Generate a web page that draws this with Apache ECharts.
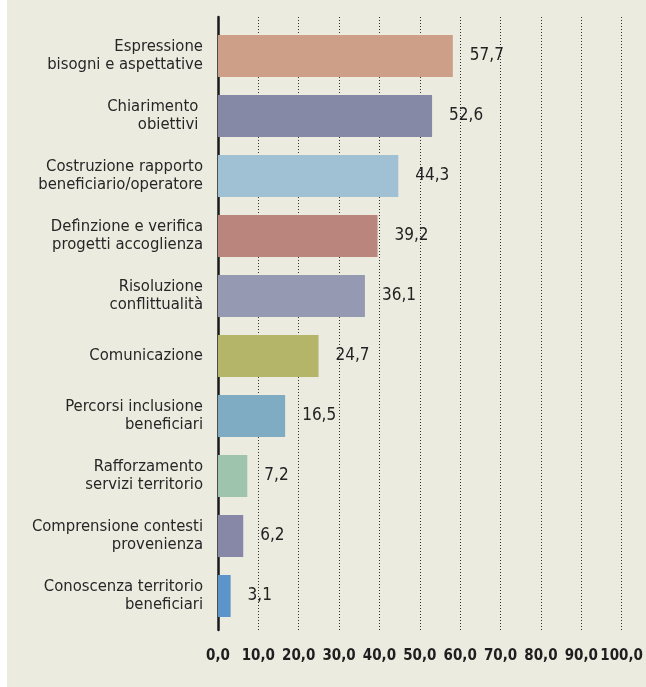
<!DOCTYPE html>
<html>
<head>
<meta charset="utf-8">
<script src="https://cdn.jsdelivr.net/npm/echarts@6/dist/echarts.min.js"></script>
<style>
  html, body { margin: 0; padding: 0; background: #ffffff; }
  #chart { position: absolute; left: 7px; top: 0; width: 639px; height: 687px; }
</style>
</head>
<body>
<div id="chart"></div>
<script>
// attività svolte (%)
var categorie = [
  'Espressione\nbisogni e aspettative',
  'Chiarimento \nobiettivi ',
  'Costruzione rapporto\nbeneficiario/operatore',
  'Defìnzione e verifica\nprogetti accoglienza',
  'Risoluzione\nconflittualità',
  'Comunicazione',
  'Percorsi inclusione\nbeneficiari',
  'Rafforzamento\nservizi territorio',
  'Comprensione contesti\nprovenienza',
  'Conoscenza territorio\nbeneficiari'
];
var valori = [57.7, 52.6, 44.3, 39.2, 36.1, 24.7, 16.5, 7.2, 6.2, 3.1];
var colori = ['#cd9e88', '#8689a6', '#a0c0d3', '#b9857d', '#9599b1',
              '#b5b56a', '#7facc3', '#9fc4ae', '#8788a8', '#5b95c9'];
var tickLabels = ['0,0', '10,0', '20,0', '30,0', '40,0', '50,0', '60,0', '70,0', '80,0', '90,0', '100,0'];

var font = "'DejaVu Sans Condensed', Roboto, sans-serif";
var myChart = echarts.init(document.getElementById('chart'));

var option = {
    backgroundColor: '#ecebe0',
    grid: [
        { left: 211, right: 21, top: 17, bottom: 57 },
        { left: 211, right: 21, top: 26, height: 600 }
    ],
    xAxis: [{
        gridIndex: 0,
        type: 'value',
        min: 0,
        max: 100,
        interval: 10,
        axisLine: { show: false },
        axisTick: { show: false },
        axisLabel: {
            margin: 19,
            fontFamily: font,
            fontSize: 15,
            fontWeight: 'bold',
            color: '#1e1e1e',
            formatter: function (v) { return tickLabels[Math.round(v / 10)]; }
        },
        splitLine: {
            lineStyle: { color: '#333', type: [1, 2], width: 1 }
        }
    }, {
        gridIndex: 1,
        type: 'value',
        min: 0,
        max: 100,
        show: false
    }],
    yAxis: [{
        gridIndex: 0,
        type: 'value',
        min: 0,
        max: 1,
        axisLine: { show: true, lineStyle: { color: '#1a1a1a', width: 2.5 } },
        axisTick: { show: false },
        axisLabel: { show: false },
        splitLine: { show: false }
    }, {
        gridIndex: 1,
        type: 'category',
        inverse: true,
        data: categorie,
        axisLine: { show: false },
        axisTick: { show: false },
        axisLabel: {
            margin: 15,
            fontFamily: font,
            fontSize: 16.5,
            lineHeight: 18,
            color: '#262626',
            align: 'right'
        }
    }],
    series: [{
        type: 'bar',
        xAxisIndex: 1,
        yAxisIndex: 1,
        barWidth: 42,
        data: valori.map(function (v, i) {
            return { value: v, itemStyle: { color: colori[i] } };
        }),
        label: {
            show: true,
            position: 'right',
            distance: 17,
            fontFamily: font,
            fontSize: 17,
            color: '#222',
            formatter: function (p) { return p.value.toFixed(1).replace('.', ','); }
        }
    }]
};

myChart.setOption(option);
</script>
</body>
</html>
